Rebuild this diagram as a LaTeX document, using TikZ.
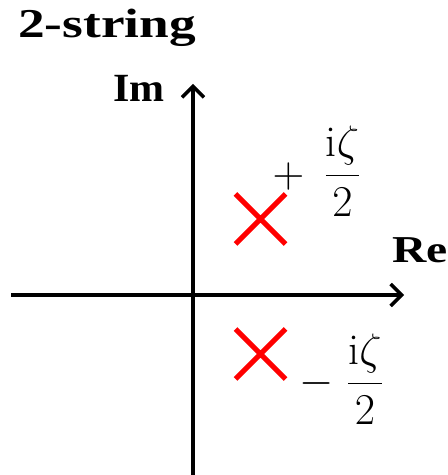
\RequirePackage{fix-cm}
\documentclass[tikz,border=0pt]{standalone}
\usepackage{fontspec}
\newfontfamily\lserif{Liberation Serif}
\usetikzlibrary{arrows.meta,shapes.misc}
\newcommand{\palb}[1]{\lserif\bfseries\fontsize{#1}{#1}\selectfont}
\tikzset{
  axis/.style={line width=3.5pt, -{Straight Barb[length=11pt,width=22pt]}},
  pole/.style={cross out, draw=red, line width=5pt, minimum size=45pt, inner sep=0pt},
  lbl/.style={inner sep=0pt, anchor=base west},
  mth/.style={inner sep=0pt, anchor=base, font=\fontsize{44}{46}\selectfont},
}
\begin{document}
\begin{tikzpicture}[x=1pt,y=1pt]
\useasboundingbox (0,0) rectangle (448,475);
\coordinate (xl) at (11,180);
\coordinate (xr) at (404,180);
\coordinate (yb) at (193,-5);
\coordinate (yt) at (193,391);
\draw[axis] (xl) -- (xr);
\draw[axis] (yb) -- (yt);
\node[lbl] (title) at (18,437) {\palb{41}\scalebox{1.3}[1]{2-string}};
\node[lbl] (im) at (113,373) {\palb{40}\scalebox{1.05}[1]{Im}};
\node[lbl] (re) at (392,212) {\palb{38}\scalebox{1.25}[1]{Re}};
\node[pole] (p1) at (260.5,256) {};
\node[pole] (p2) at (260.5,121) {};
\node[mth] (plus) at (288.5,287) {$+$};
\node[mth] (f1) at (342.5,289) {$\displaystyle\frac{\mathrm{i}\zeta}{2}$};
\node[mth] (minus) at (316.5,81) {$-$};
\node[mth] (f2) at (365,81) {$\displaystyle\frac{\mathrm{i}\zeta}{2}$};
\end{tikzpicture}
\end{document}
